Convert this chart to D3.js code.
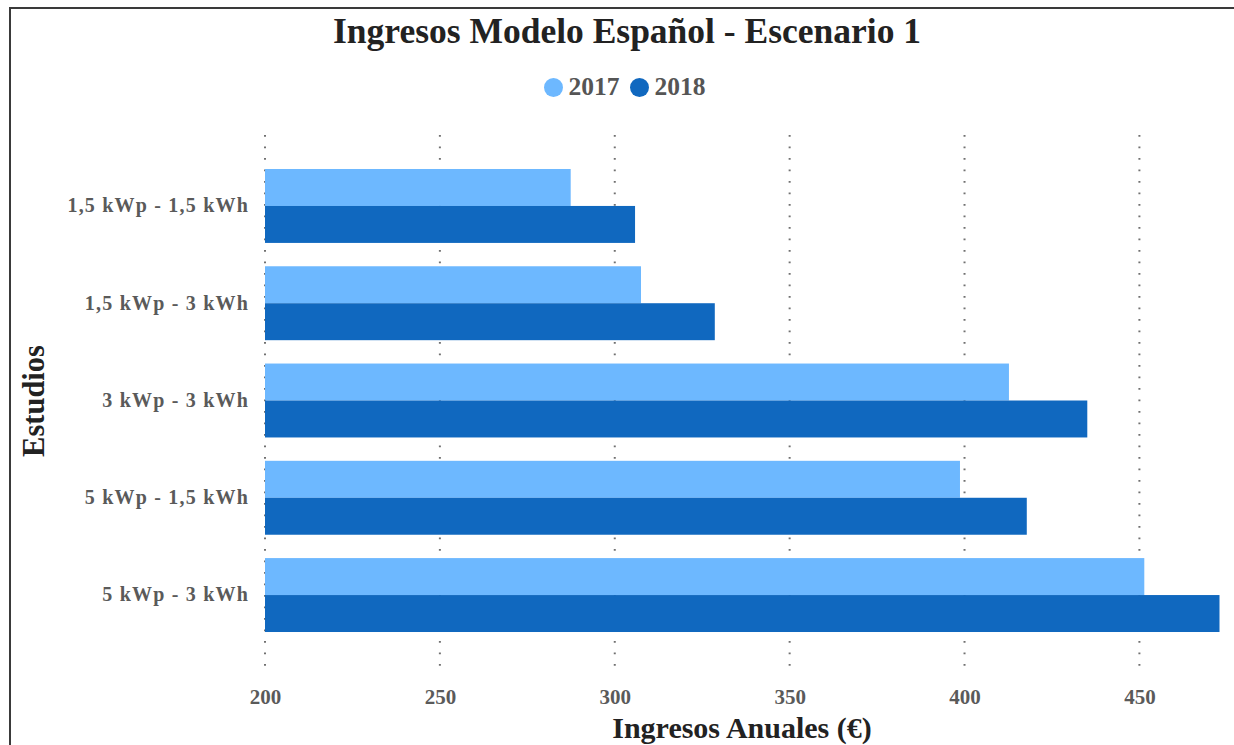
<!DOCTYPE html>
<html>
<head>
<meta charset="utf-8">
<script src="https://cdn.jsdelivr.net/npm/d3@7"></script>
<style>
  html, body { margin: 0; padding: 0; background: #fff; }
  svg { display: block; }
  text { font-family: "Liberation Serif", "Times New Roman", serif; font-weight: bold; }
</style>
</head>
<body>
<svg id="chart" width="1234" height="745"></svg>
<script>
// Study configurations (PV power - battery capacity)
const categories = ["1,5 kWp - 1,5 kWh", "1,5 kWp - 3 kWh", "3 kWp - 3 kWh", "5 kWp - 1,5 kWh", "5 kWp - 3 kWh"];
const years = ["2017", "2018"];
// Annual income (€) per study and year
const values2017 = [287.4, 307.5, 412.7, 398.7, 451.4];
const values2018 = [305.8, 328.6, 435.1, 417.8, 472.9];
const xTicks = [200, 250, 300, 350, 400, 450];
const colors = ["#6db8ff", "#1068bf"];

const rows = categories.map((c, i) => ({ cat: c, vals: [values2017[i], values2018[i]] }));

const svg = d3.select("#chart");

// frame
svg.append("rect")
  .attr("x", 10).attr("y", 8)
  .attr("width", 1240).attr("height", 760)
  .attr("fill", "none").attr("stroke", "#3a3a3a").attr("stroke-width", 2);

const x = d3.scaleLinear()
  .domain([200, d3.max(values2018)])
  .range([265, 1219.5]);

const y = d3.scaleBand()
  .domain(categories)
  .range([133, 668])
  .paddingInner(0.24)
  .paddingOuter(0.37);

const ySub = d3.scaleBand()
  .domain(years)
  .range([0, y.bandwidth()]);

// dotted vertical grid
svg.append("g")
  .selectAll("line")
  .data(xTicks)
  .join("line")
  .attr("x1", d => x(d)).attr("x2", d => x(d))
  .attr("y1", 135).attr("y2", 674)
  .attr("stroke", "#707070")
  .attr("stroke-width", 2)
  .attr("stroke-dasharray", "1.8,9.7");

// bars
const groups = svg.append("g")
  .selectAll("g")
  .data(rows)
  .join("g")
  .attr("transform", d => `translate(0,${y(d.cat)})`);

groups.selectAll("rect")
  .data(d => d.vals.map((v, i) => ({ year: years[i], v, i })))
  .join("rect")
  .attr("x", x(200))
  .attr("y", d => ySub(d.year))
  .attr("width", d => x(d.v) - x(200))
  .attr("height", ySub.bandwidth())
  .attr("fill", d => colors[d.i]);

// x axis labels
const xAxis = d3.axisBottom(x).tickValues(xTicks).tickSize(0).tickPadding(0);
const gx = svg.append("g").attr("transform", "translate(0,704)").call(xAxis);
gx.select(".domain").remove();
gx.selectAll("text")
  .attr("font-family", "Liberation Serif, serif")
  .attr("font-weight", "bold")
  .attr("font-size", 21)
  .attr("fill", "#5a5a5a")
  .attr("y", 0)
  .attr("dy", 0);

// y axis labels
const yAxis = d3.axisLeft(y).tickSize(0).tickPadding(0);
const gy = svg.append("g").attr("transform", "translate(249,0)").call(yAxis);
gy.select(".domain").remove();
gy.selectAll("text")
  .attr("font-family", "Liberation Serif, serif")
  .attr("font-weight", "bold")
  .attr("font-size", 20)
  .attr("letter-spacing", 1.2)
  .attr("fill", "#5a5a5a")
  .attr("dy", "0.32em");

// title
svg.append("text")
  .attr("x", 627).attr("y", 43)
  .attr("text-anchor", "middle")
  .attr("font-size", 35.5)
  .attr("fill", "#222")
  .text("Ingresos Modelo Español - Escenario 1");

// legend
const legend = svg.append("g");
const legendItems = [{ label: "2017", cx: 553.5 }, { label: "2018", cx: 639.5 }];
legendItems.forEach((it, i) => {
  legend.append("circle")
    .attr("cx", it.cx).attr("cy", 87.5).attr("r", 9.5)
    .attr("fill", colors[i]);
  legend.append("text")
    .attr("x", it.cx + 15).attr("y", 95)
    .attr("font-size", 25.5)
    .attr("fill", "#555")
    .text(it.label);
});

// axis titles
svg.append("text")
  .attr("x", 742).attr("y", 738)
  .attr("text-anchor", "middle")
  .attr("font-size", 30)
  .attr("fill", "#222")
  .text("Ingresos Anuales (€)");

svg.append("text")
  .attr("transform", "translate(44,401) rotate(-90)")
  .attr("text-anchor", "middle")
  .attr("font-size", 30.5)
  .attr("fill", "#222")
  .text("Estudios");
</script>
</body>
</html>
